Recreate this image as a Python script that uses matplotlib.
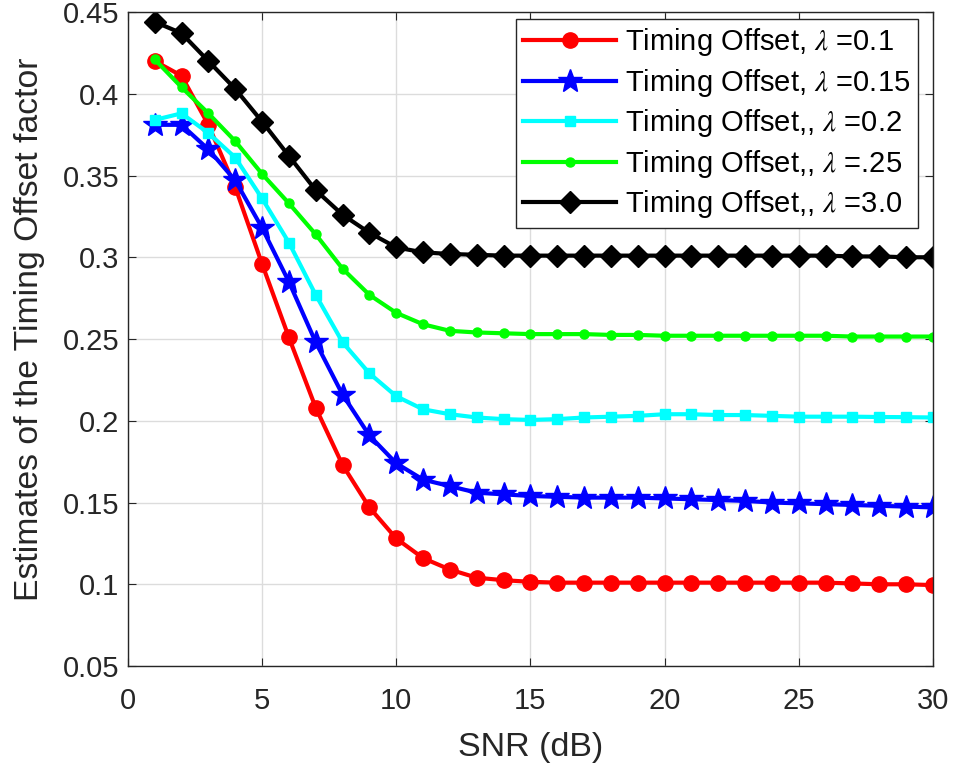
import matplotlib
matplotlib.use("Agg")
import matplotlib.pyplot as plt

plt.rcParams['font.family'] = ['Liberation Sans', 'DejaVu Sans']
plt.rcParams['mathtext.fontset'] = 'stix'

snr = list(range(1, 31))

red = [0.420, 0.411, 0.381, 0.343, 0.296, 0.251, 0.208, 0.173, 0.147, 0.128,
       0.116, 0.109, 0.104, 0.1025, 0.1015, 0.101, 0.101, 0.101, 0.101, 0.101,
       0.101, 0.101, 0.101, 0.101, 0.101, 0.101, 0.1005, 0.100, 0.100, 0.0995]
blue = [0.381, 0.381, 0.366, 0.347, 0.318, 0.285, 0.248, 0.216, 0.191, 0.174,
        0.164, 0.160, 0.156, 0.155, 0.154, 0.1535, 0.153, 0.153, 0.153, 0.1525,
        0.152, 0.1515, 0.151, 0.150, 0.1495, 0.149, 0.1485, 0.148, 0.1475, 0.147]
cyan = [0.384, 0.388, 0.376, 0.361, 0.336, 0.309, 0.277, 0.248, 0.229, 0.215,
        0.207, 0.204, 0.202, 0.201, 0.2005, 0.201, 0.202, 0.2025, 0.203, 0.204,
        0.204, 0.2035, 0.2035, 0.203, 0.2025, 0.2025, 0.2025, 0.2023, 0.2022, 0.202]
green = [0.421, 0.404, 0.388, 0.371, 0.351, 0.333, 0.314, 0.293, 0.277, 0.266,
         0.259, 0.255, 0.254, 0.2535, 0.253, 0.253, 0.253, 0.2525, 0.2525, 0.252,
         0.252, 0.252, 0.252, 0.252, 0.252, 0.252, 0.2515, 0.2515, 0.2515, 0.2515]
black = [0.444, 0.437, 0.420, 0.403, 0.383, 0.362, 0.341, 0.326, 0.315, 0.306,
         0.303, 0.302, 0.3015, 0.301, 0.301, 0.301, 0.301, 0.301, 0.301, 0.301,
         0.301, 0.301, 0.301, 0.301, 0.301, 0.301, 0.3005, 0.3005, 0.300, 0.300]

labels = ["Timing Offset, $\\lambda$ =0.1",
          "Timing Offset, $\\lambda$ =0.15",
          "Timing Offset,, $\\lambda$ =0.2",
          "Timing Offset,, $\\lambda$ =.25",
          "Timing Offset,, $\\lambda$ =3.0"]

fig = plt.figure(figsize=(9.54, 7.74), dpi=100)
ax = fig.add_axes([0.134, 0.1395, 0.844, 0.845])

ax.plot(snr, red, color='#ff0000', lw=3, marker='o', ms=11, label=labels[0])
ax.plot(snr, blue, color='#0000ff', lw=3, marker='*', ms=18, label=labels[1])
ax.plot(snr, cyan, color='#00ffff', lw=3, marker='s', ms=7.5, label=labels[2])
ax.plot(snr, green, color='#00ff00', lw=3, marker='o', ms=6.5, label=labels[3])
ax.plot(snr, black, color='#000000', lw=3, marker='D', ms=11, label=labels[4])

ax.set_xlim(0, 30)
ax.set_ylim(0.05, 0.45)
ax.set_xticks([0, 5, 10, 15, 20, 25, 30])
ax.set_yticks([0.05, 0.1, 0.15, 0.2, 0.25, 0.3, 0.35, 0.4, 0.45])
ax.set_yticklabels(['0.05', '0.1', '0.15', '0.2', '0.25', '0.3', '0.35', '0.4', '0.45'])
ax.tick_params(direction='in', top=True, right=True, labelsize=21, colors='#262626',
               length=6)
ax.tick_params(axis='x', pad=15)
ax.tick_params(axis='y', pad=6)
ax.grid(True, color='#dcdcdc', lw=1.0)
ax.set_axisbelow(True)
for s in ax.spines.values():
    s.set_color('#262626')
    s.set_linewidth(1.0)

ax.set_xlabel('SNR (dB)', fontsize=24.5, color='#262626', labelpad=12)
ax.set_ylabel('Estimates of the Timing Offset factor', fontsize=24.3, color='#262626')
ax.yaxis.set_label_coords(-0.103, 0.515)

leg = ax.legend(loc='upper right', fontsize=21, fancybox=False, framealpha=1,
                edgecolor='#262626', handlelength=3.2, borderpad=0.25,
                labelspacing=0.29, handletextpad=0.3, borderaxespad=0,
                bbox_to_anchor=(0.981, 0.989))
leg.get_frame().set_linewidth(1.0)

fig.savefig('out.png', dpi=100)
